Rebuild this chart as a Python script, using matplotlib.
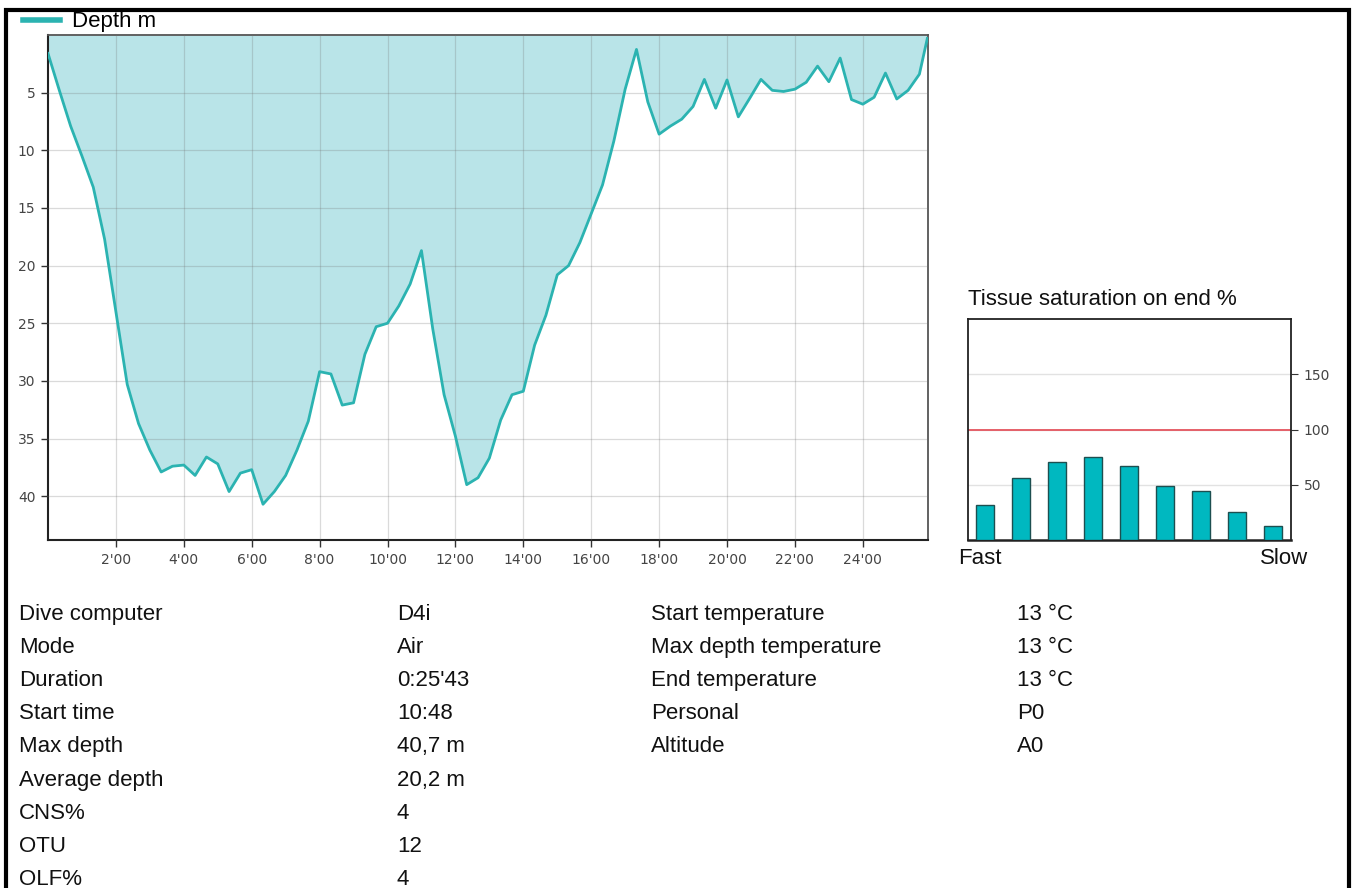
import matplotlib.pyplot as plt
import matplotlib.patches as patches
import numpy as np


W, H = 1352, 888
SAMPLE_S = 20  # dive computer logs every 20 s

# depth profile, one value per sample (m)
depth_m = [1.6, 4.8, 7.9, 10.5, 13.2, 17.7, 24.0, 30.3, 33.7, 36.0,
           37.9, 37.4, 37.3, 38.2, 36.6, 37.2, 39.6, 38.0, 37.7, 40.7,
           39.6, 38.2, 36.0, 33.5, 29.2, 29.4, 32.1, 31.9, 27.7, 25.3,
           25.0, 23.5, 21.6, 18.7, 25.5, 31.2, 34.8, 39.0, 38.4, 36.7,
           33.4, 31.2, 30.9, 26.9, 24.3, 20.8, 20.0, 18.0, 15.5, 13.0,
           9.2, 4.7, 1.25, 5.8, 8.6, 7.9, 7.3, 6.2, 3.85, 6.35,
           3.9, 7.1, 5.5, 3.85, 4.8, 4.9, 4.7, 4.1, 2.7, 4.05,
           2.0, 5.6, 6.0, 5.4, 3.3, 5.55, 4.8, 3.4]
end_min = 25.9
end_depth = 0.3

xtick_min = [2, 4, 6, 8, 10, 12, 14, 16, 18, 20, 22, 24]
ytick_m = [5, 10, 15, 20, 25, 30, 35, 40]

# tissue saturation, fast -> slow compartments (%)
tissue_pct = [32, 56, 71, 75, 67, 49, 44, 25, 13]

info_left = [("Dive computer", "D4i"), ("Mode", "Air"), ("Duration", "0:25'43"),
             ("Start time", "10:48"), ("Max depth", "40,7 m"),
             ("Average depth", "20,2 m"), ("CNS%", "4"), ("OTU", "12"),
             ("OLF%", "4")]
info_right = [("Start temperature", "13 °C"), ("Max depth temperature", "13 °C"),
              ("End temperature", "13 °C"), ("Personal", "P0"),
              ("Altitude", "A0")]

TEAL_LINE = '#2bb3b1'
TEAL_FILL = '#b9e4e8'
TXT = 'Liberation Sans'
FS = 16


def fx(px):
    return px / W


def fy(py):
    return 1 - py / H


fig = plt.figure(figsize=(W / 100, H / 100), dpi=100)

# outer frame of the report page
fig.patches.append(patches.Rectangle((fx(6), fy(900)), fx(1349) - fx(6), fy(10) - fy(900),
                                     transform=fig.transFigure, fill=False,
                                     edgecolor='black', linewidth=3, clip_on=False))

# ---- depth profile ----
t = np.append(np.arange(len(depth_m)) * SAMPLE_S / 60, end_min)
d = np.append(depth_m, end_depth)

ax = fig.add_axes([fx(48), fy(540), fx(928) - fx(48), fy(35) - fy(540)])
ax.fill_between(t, 0, d, color=TEAL_FILL, linewidth=0, zorder=1)
ax.plot(t, d, color=TEAL_LINE, linewidth=2, zorder=3, label='Depth m')
ax.set_xlim(0, 25.92)
ax.set_ylim(43.8, 0)
ax.set_xticks(xtick_min)
ax.set_xticklabels([f"{m}'00" for m in xtick_min])
ax.set_yticks(ytick_m)
ax.grid(True, color='#6f6f6f', alpha=0.25, linewidth=0.9, zorder=2)
ax.set_axisbelow(False)
ax.tick_params(direction='out', length=5, width=1, color='#333333',
               labelsize=10, labelcolor='#444444', pad=4)
for s in ['left', 'bottom']:
    ax.spines[s].set_linewidth(1.5)
    ax.spines[s].set_color('#222222')
for s in ['top', 'right']:
    ax.spines[s].set_linewidth(1.3)
    ax.spines[s].set_color('#555555')

fig.legend(loc='center left', bbox_to_anchor=(fx(23), fy(22)), frameon=False,
           borderpad=0, borderaxespad=0, handlelength=1.65, handletextpad=0.55,
           prop={'family': TXT, 'size': FS},
           handles=[plt.Line2D([], [], color=TEAL_LINE, linewidth=4)],
           labels=['Depth m'])

# ---- tissue saturation ----
ax2 = fig.add_axes([fx(968), fy(540), fx(1291) - fx(968), fy(319) - fy(540)])
pos = np.arange(len(tissue_pct))
ax2.bar(pos, tissue_pct, width=0.49, color='#00b8c0', edgecolor='#1d4f50',
        linewidth=1, zorder=3)
ax2.axhline(100, color='#e4555f', linewidth=1.3, zorder=2)
ax2.set_xlim(-0.47, 8.5)
ax2.set_ylim(0, 200)
ax2.set_yticks([50, 100, 150])
ax2.yaxis.tick_right()
ax2.set_xticks([])
ax2.grid(axis='y', color='#e2e2e2', linewidth=1, zorder=1)
ax2.tick_params(axis='y', direction='out', length=5, color='#333333',
                labelsize=10, labelcolor='#444444', pad=4)
for s in ax2.spines.values():
    s.set_color('#222222')
    s.set_linewidth(1.3)
ax2.spines['bottom'].set_linewidth(1.8)

fig.text(fx(968), fy(299), 'Tissue saturation on end %', family=TXT, size=FS,
         va='center', ha='left', color='#111111')
fig.text(fx(958), fy(558), 'Fast', family=TXT, size=FS, va='center', ha='left',
         color='#111111')
fig.text(fx(1308), fy(558), 'Slow', family=TXT, size=FS, va='center', ha='right',
         color='#111111')

# ---- dive info table ----
for i, (k, v) in enumerate(info_left):
    yb = fy(620 + i * 33.1)
    fig.text(fx(19), yb, k, family=TXT, size=FS, va='baseline', color='#111111')
    fig.text(fx(397), yb, v, family=TXT, size=FS, va='baseline', color='#111111')
for i, (k, v) in enumerate(info_right):
    yb = fy(620 + i * 33.1)
    fig.text(fx(651), yb, k, family=TXT, size=FS, va='baseline', color='#111111')
    fig.text(fx(1017), yb, v, family=TXT, size=FS, va='baseline', color='#111111')

fig.savefig('out.png', dpi=100)
